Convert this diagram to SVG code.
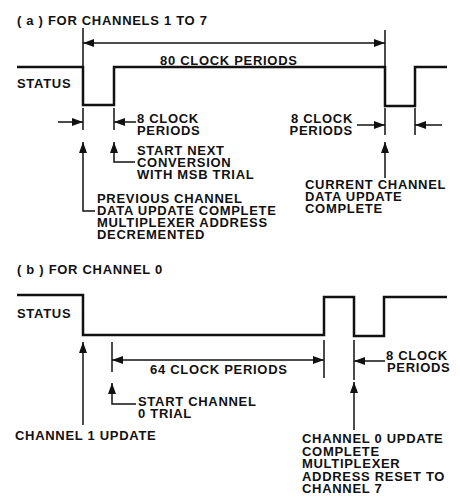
<svg xmlns="http://www.w3.org/2000/svg" width="460" height="499" viewBox="0 0 460 499">
<defs>
<marker id="ah" viewBox="0 0 11 8" refX="11" refY="4" markerWidth="11" markerHeight="8" markerUnits="userSpaceOnUse" orient="auto">
<path d="M0,0 L11,4 L0,8 Z" fill="#111"/>
</marker>
<style>
text{font-family:"Liberation Sans",Arial,sans-serif;font-weight:bold;font-size:13px;letter-spacing:0.7px;fill:#111}
.wave{fill:none;stroke:#111;stroke-width:2.5;stroke-linejoin:miter}
.ln{fill:none;stroke:#111;stroke-width:1.5}
.arr{fill:none;stroke:#111;stroke-width:1.5;marker-end:url(#ah)}
</style>
</defs>
<rect width="460" height="499" fill="#fff"/>

<g id="title-a"><text x="17" y="25">( a ) FOR CHANNELS 1 TO 7</text></g>
<g id="status-a">
<text x="17" y="88">STATUS</text>
<path class="wave" d="M17,67 H83 V105 H114 V67 H385 V106 H415 V67 H447"/>
</g>
<g id="label-80"><text x="160" y="65">80 CLOCK PERIODS</text></g>
<g id="label-8a"><text x="137" y="123">8 CLOCK</text><text x="137" y="135">PERIODS</text></g>
<g id="label-start-next"><text x="137" y="155">START NEXT</text><text x="137" y="167">CONVERSION</text><text x="137" y="179">WITH MSB TRIAL</text></g>
<g id="label-previous"><text x="97" y="203">PREVIOUS CHANNEL</text><text x="97" y="215">DATA UPDATE COMPLETE</text><text x="97" y="227">MULTIPLEXER ADDRESS</text><text x="97" y="239">DECREMENTED</text></g>
<g id="label-8a-right"><text x="353" y="123" text-anchor="end">8 CLOCK</text><text x="353" y="135" text-anchor="end">PERIODS</text></g>
<g id="label-current"><text x="305" y="189">CURRENT CHANNEL</text><text x="305" y="201">DATA UPDATE</text><text x="305" y="213">COMPLETE</text></g>

<g id="title-b"><text x="17" y="274">( b ) FOR CHANNEL 0</text></g>
<g id="status-b">
<text x="17" y="318">STATUS</text>
<path class="wave" d="M17,295 H83 V335 H324 V297 H354 V336 H384 V297 H447"/>
</g>
<g id="label-64"><text x="150" y="374">64 CLOCK PERIODS</text></g>
<g id="label-start-ch0"><text x="138" y="406">START CHANNEL</text><text x="138" y="418">0 TRIAL</text></g>
<g id="label-ch1"><text x="15" y="440">CHANNEL 1 UPDATE</text></g>
<g id="label-8b"><text x="386" y="360">8 CLOCK</text><text x="387" y="372">PERIODS</text></g>
<g id="label-ch0"><text x="302" y="443">CHANNEL 0 UPDATE</text><text x="302" y="455.5">COMPLETE</text><text x="302" y="468">MULTIPLEXER</text><text x="302" y="480.5">ADDRESS RESET TO</text><text x="302" y="493">CHANNEL 7</text></g>

<g id="connectors">
<path class="ln" d="M83,28 V67 M385,30 V67"/>
<path class="arr" d="M234,43 H83"/>
<path class="arr" d="M234,43 H385"/>
<path class="ln" d="M83,108 V130 M114,108 V130"/>
<path class="arr" d="M58,122 H83"/>
<path class="arr" d="M136,122 H114"/>
<path class="arr" d="M95,211 H83 V142"/>
<path class="arr" d="M135,162 H114 V142"/>
<path class="ln" d="M385,108 V135 M415,108 V135"/>
<path class="arr" d="M357,125 H385"/>
<path class="arr" d="M442,125 H415"/>
<path class="arr" d="M385,178 V142"/>
<path class="arr" d="M83,425 V342"/>
<path class="ln" d="M112,342 V372"/>
<path class="arr" d="M218,360 H112"/>
<path class="arr" d="M218,360 H324"/>
<path class="arr" d="M136,404 H112 V383"/>
<path class="ln" d="M324,340 V378 M354,340 V380"/>
<path class="arr" d="M354,430 V382"/>
<path class="arr" d="M385,361 H354"/>
</g>
</svg>
